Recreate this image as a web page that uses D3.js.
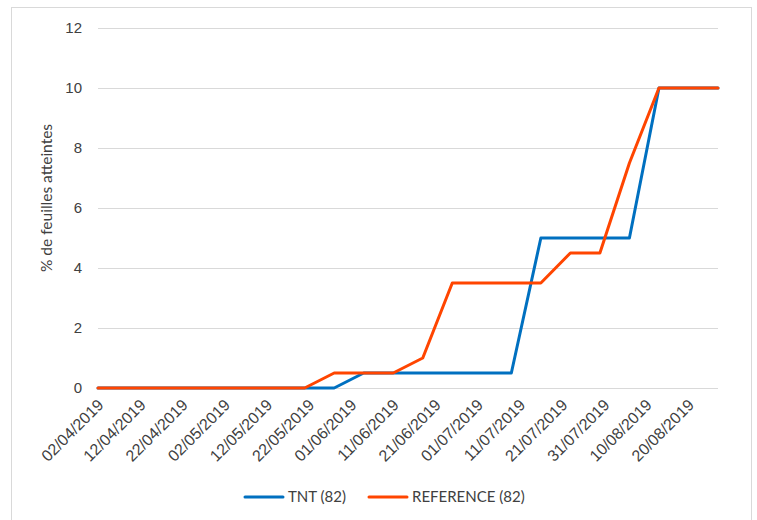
<!DOCTYPE html>
<html>
<head>
<meta charset="utf-8">
<script src="https://cdn.jsdelivr.net/npm/d3@7"></script>
<style>
  html, body { margin: 0; padding: 0; background: #fff; }
  svg { display: block; font-family: Lato, "Open Sans", sans-serif; }
</style>
</head>
<body>
<svg id="chart" width="757" height="520"></svg>
<script>
// Weekly observation dates
const dates = ["02/04/2019","09/04/2019","16/04/2019","23/04/2019","30/04/2019","07/05/2019",
  "14/05/2019","21/05/2019","28/05/2019","04/06/2019","11/06/2019","18/06/2019","25/06/2019",
  "02/07/2019","09/07/2019","16/07/2019","23/07/2019","30/07/2019","06/08/2019","13/08/2019",
  "20/08/2019","27/08/2019"];
const tntValues = [0,0,0,0,0,0,0,0,0,0.5,0.5,0.5,0.5,0.5,0.5,5,5,5,5,10,10,10];
const refValues = [0,0,0,0,0,0,0,0,0.5,0.5,0.5,1,3.5,3.5,3.5,3.5,4.5,4.5,7.5,10,10,10];
const seriesNames = ["TNT (82)", "REFERENCE (82)"];
const seriesColors = ["#0070C0", "#FF4500"];
const yTicks = [0, 2, 4, 6, 8, 10, 12];
const yTitle = "% de feuilles atteintes";

const parse = d3.timeParse("%d/%m/%Y");
const fmt = d3.timeFormat("%d/%m/%Y");
const X = dates.map(parse);

const svg = d3.select("#chart");
const margin = { left: 98, right: 39, top: 28, bottom: 132 };
const W = 757, H = 520;
const textColor = "#404040";

// outer chart frame
svg.append("rect").attr("x", 11.5).attr("y", 7.5).attr("width", 740).attr("height", 520)
  .attr("fill", "none").attr("stroke", "#D9D9D9");

const x = d3.scaleTime().domain([X[0], X[X.length - 1]]).range([margin.left, W - margin.right]);
const y = d3.scaleLinear().domain([0, 12]).range([H - margin.bottom, margin.top]);

// horizontal gridlines + y labels
const yAxis = d3.axisLeft(y).tickValues(yTicks).tickSize(-(W - margin.right - margin.left)).tickPadding(16);
const gy = svg.append("g").attr("transform", `translate(${margin.left},0)`).call(yAxis);
gy.select(".domain").remove();
gy.selectAll("line").attr("stroke", "#D9D9D9").attr("stroke-width", 1);
gy.selectAll("text").attr("fill", textColor).style("font-size", "15px");

// x axis with 10-day ticks
const xTicks = d3.timeDay.range(X[0], d3.timeDay.offset(X[X.length - 1], -6), 10);
const xAxis = d3.axisBottom(x).tickValues(xTicks).tickFormat(fmt).tickSize(0).tickPadding(0);
const gx = svg.append("g").attr("transform", `translate(0,${y(0)})`).call(xAxis);
gx.select(".domain").remove();
gx.selectAll("text")
  .attr("fill", textColor).style("font-size", "16px")
  .attr("text-anchor", "end")
  .attr("dy", 0)
  .attr("transform", "translate(6,18) rotate(-45)");

// y-axis title
svg.append("text")
  .attr("transform", `translate(52,${(y(0) + y(12)) / 2 - 10}) rotate(-90)`)
  .attr("text-anchor", "middle").attr("fill", textColor).style("font-size", "15.5px")
  .text(yTitle);

// series lines
const line = d3.line().x((d, i) => x(X[i])).y(d => y(d));
[tntValues, refValues].forEach((vals, k) => {
  svg.append("path").datum(vals)
    .attr("fill", "none").attr("stroke", seriesColors[k]).attr("stroke-width", 3)
    .attr("stroke-linejoin", "round").attr("stroke-linecap", "round")
    .attr("d", line);
});

// legend
const legendX = [245, 369];
seriesNames.forEach((name, k) => {
  const g = svg.append("g").attr("transform", `translate(${legendX[k]},497)`);
  g.append("line").attr("x1", 0).attr("x2", 38).attr("stroke", seriesColors[k])
    .attr("stroke-width", 3).attr("stroke-linecap", "round");
  g.append("text").attr("x", 43).attr("dy", "0.35em").attr("fill", textColor)
    .style("font-size", "15px").text(name);
});
</script>
</body>
</html>
